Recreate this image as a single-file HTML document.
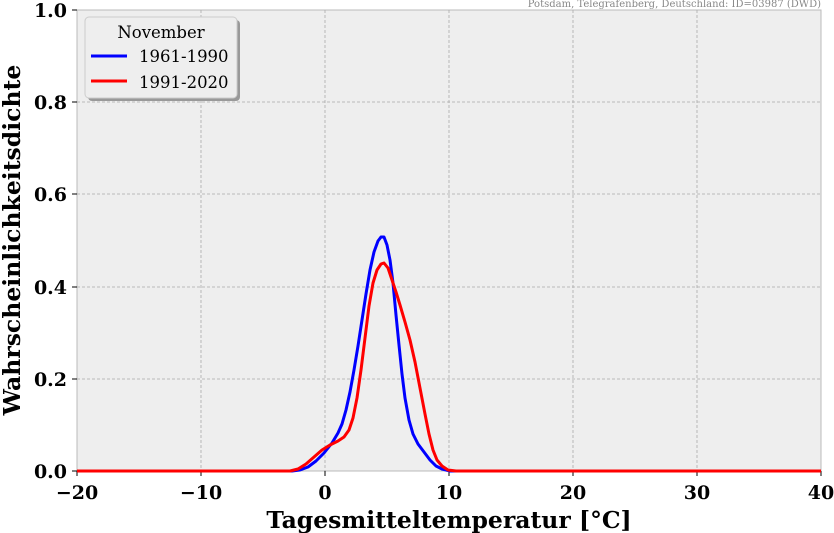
<!DOCTYPE html>
<html><head><meta charset="utf-8"><style>
body{margin:0;background:#fff}
svg{display:block;font-family:"DejaVu Serif","Liberation Serif",serif}
</style></head><body>
<svg width="834" height="533" viewBox="0 0 834 533">
<rect x="77" y="10" width="744" height="461" fill="#eeeeee" stroke="#bbb"/>
<g stroke="#aaaaaa" stroke-dasharray="3,2" stroke-width="0.8">
<line x1="201" y1="10" x2="201" y2="471"/><line x1="325" y1="10" x2="325" y2="471"/>
<line x1="449" y1="10" x2="449" y2="471"/><line x1="573" y1="10" x2="573" y2="471"/>
<line x1="697" y1="10" x2="697" y2="471"/>
<line x1="77" y1="102" x2="821" y2="102"/><line x1="77" y1="194" x2="821" y2="194"/>
<line x1="77" y1="287" x2="821" y2="287"/><line x1="77" y1="379" x2="821" y2="379"/>
</g>
<g stroke="#000" stroke-width="1">
<line x1="77" y1="471" x2="77" y2="476"/><line x1="201" y1="471" x2="201" y2="476"/><line x1="325" y1="471" x2="325" y2="476"/><line x1="449" y1="471" x2="449" y2="476"/><line x1="573" y1="471" x2="573" y2="476"/><line x1="697" y1="471" x2="697" y2="476"/><line x1="821" y1="471" x2="821" y2="476"/>
<line x1="72" y1="471" x2="77" y2="471"/><line x1="72" y1="379" x2="77" y2="379"/><line x1="72" y1="287" x2="77" y2="287"/><line x1="72" y1="194" x2="77" y2="194"/><line x1="72" y1="102" x2="77" y2="102"/><line x1="72" y1="10" x2="77" y2="10"/>
</g>
<g font-size="19" font-weight="bold" text-anchor="middle">
<text x="77" y="499">−20</text><text x="201" y="499">−10</text><text x="325" y="499">0</text><text x="449" y="499">10</text><text x="573" y="499">20</text><text x="697" y="499">30</text><text x="821" y="499">40</text>
</g>
<g font-size="19" font-weight="bold" text-anchor="end">
<text x="67" y="478">0.0</text><text x="67" y="386">0.2</text><text x="67" y="294">0.4</text><text x="67" y="201">0.6</text><text x="67" y="109">0.8</text><text x="67" y="17">1.0</text>
</g>
<text x="449" y="528" font-size="23.5" font-weight="bold" text-anchor="middle">Tagesmitteltemperatur [°C]</text>
<text transform="translate(20,240) rotate(-90)" font-size="23.5" font-weight="bold" text-anchor="middle">Wahrscheinlichkeitsdichte</text>
<text x="821" y="7" font-size="10" fill="#888" text-anchor="end">Potsdam, Telegrafenberg, Deutschland: ID=03987 (DWD)</text>
<polyline fill="none" stroke="#0000ff" stroke-width="3" stroke-linejoin="round" points="77,471 292,471 300,470 308,467 316,461 324,453 332,443 338,433 342,424 346,410 350,392 354,370 358,346 362,320 366,294 370,270 374,252 378,241 381,237 384,237 387,245 390,260 393,283 396,315 399,345 402,374 405,398 409,420 413,434 418,444 424,452 430,460 436,466 442,469 450,471 821,471"/>
<polyline fill="none" stroke="#ff0000" stroke-width="3" stroke-linejoin="round" points="77,471 290,471 298,469 306,464 314,457 322,450 330,445 338,441 344,437 349,430 353,418 357,398 361,370 365,338 369,306 373,283 377,270 381,264 384,263 388,268 392,280 396,292 400,305 405,322 410,340 415,362 420,388 425,414 429,434 433,450 437,460 442,466 448,470 456,471 821,471"/>
<g>
<rect x="88" y="20" width="152" height="81" rx="4" fill="#999"/>
<rect x="85" y="17" width="152" height="81" rx="4" fill="#eeeeee" stroke="#ccc"/>
<text x="161" y="38" font-size="16.5" text-anchor="middle">November</text>
<line x1="91" y1="56" x2="127" y2="56" stroke="#0000ff" stroke-width="3"/>
<text x="139" y="62" font-size="16.5">1961-1990</text>
<line x1="91" y1="81" x2="127" y2="81" stroke="#ff0000" stroke-width="3"/>
<text x="139" y="88" font-size="16.5">1991-2020</text>
</g>
</svg>
</body></html>
